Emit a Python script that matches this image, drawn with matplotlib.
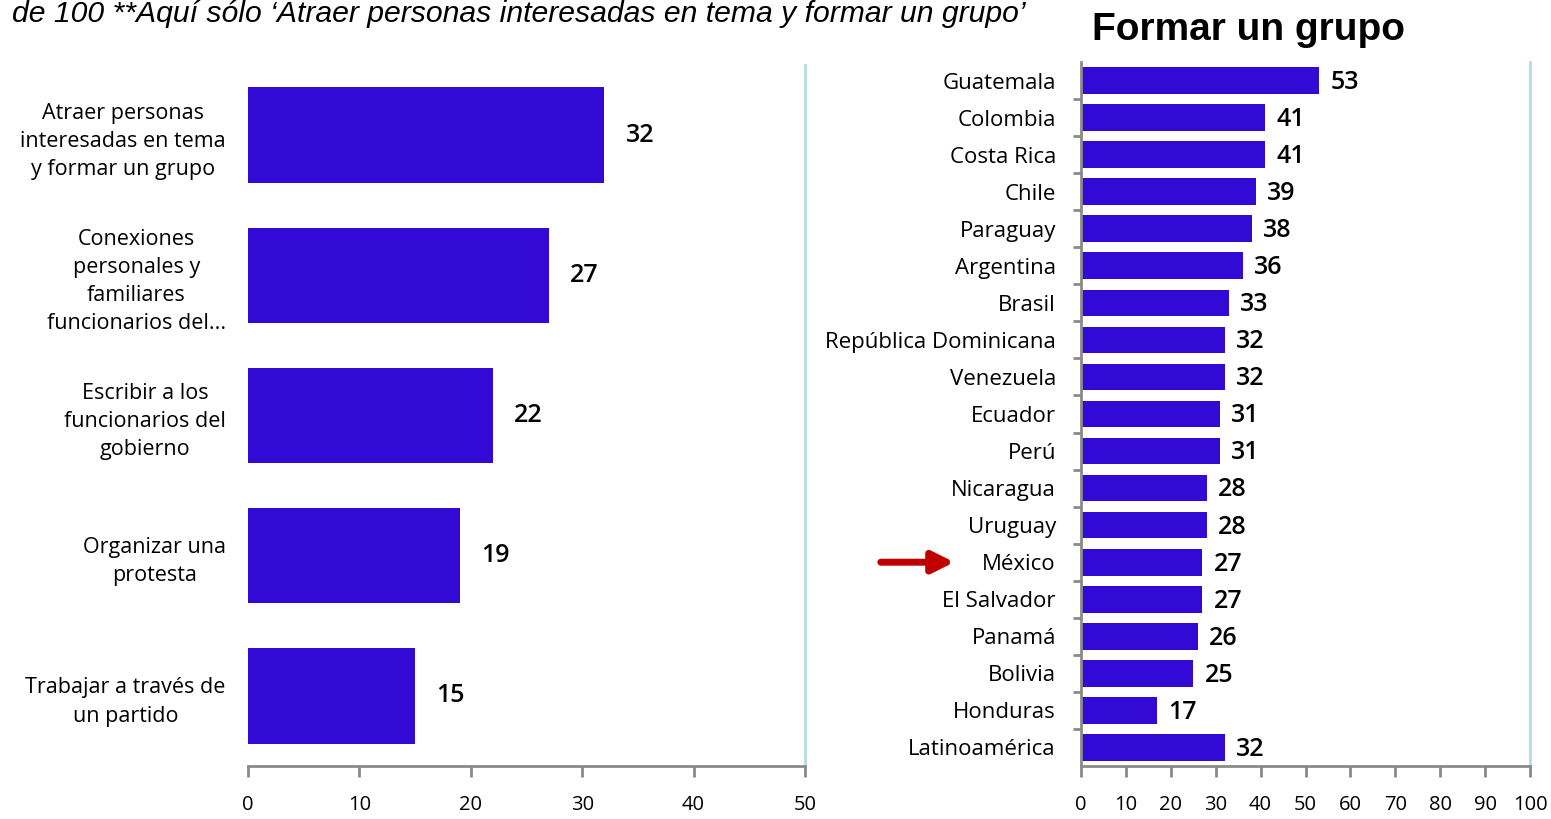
import matplotlib.pyplot as plt

# datos
acciones = ["Atraer personas\ninteresadas en tema\ny formar un grupo",
            "Conexiones\npersonales y\nfamiliares\nfuncionarios del...",
            "Escribir a los\nfuncionarios del\ngobierno",
            "Organizar una\nprotesta",
            "Trabajar a través de\nun partido"]
acciones_val = [32, 27, 22, 19, 15]

paises = ["Guatemala", "Colombia", "Costa Rica", "Chile", "Paraguay", "Argentina",
          "Brasil", "República Dominicana", "Venezuela", "Ecuador", "Perú",
          "Nicaragua", "Uruguay", "México", "El Salvador", "Panamá", "Bolivia",
          "Honduras", "Latinoamérica"]
paises_val = [53, 41, 41, 39, 38, 36, 33, 32, 32, 31, 31, 28, 28, 27, 27, 26, 25, 17, 32]

izq_ticks = [0, 10, 20, 30, 40, 50]
der_ticks = [0, 10, 20, 30, 40, 50, 60, 70, 80, 90, 100]

azul = "#3309D6"
celeste = "#B3DDE6"
gris = "#8A8A8A"

plt.rcParams["font.family"] = ["Open Sans", "DejaVu Sans"]

fig = plt.figure(figsize=(15.51, 8.19), dpi=100)
W, H = 1551, 819

def estilo(ax, ticks, label_size):
    ax.spines["top"].set_visible(False)
    ax.spines["right"].set_color(celeste)
    ax.spines["right"].set_linewidth(2)
    ax.spines["bottom"].set_color(gris)
    ax.spines["bottom"].set_linewidth(2)
    ax.set_xticks(ticks)
    ax.set_xticklabels([str(t) for t in ticks])
    ax.tick_params(axis="x", direction="out", length=8, width=2, color=gris,
                   pad=13, labelsize=label_size)

# grafico izquierdo
ax1 = fig.add_axes([248 / W, 1 - 766 / H, (805 - 248) / W, (766 - 65) / H])
y1 = list(range(len(acciones)))
ax1.barh(y1, acciones_val, height=0.68, color=azul)
ax1.set_xlim(0, 50)
ax1.set_ylim(len(acciones) - 0.5, -0.5)
estilo(ax1, izq_ticks, 14.5)
ax1.spines["left"].set_visible(False)
ax1.set_yticks(y1)
ax1.set_yticklabels(acciones, multialignment="center", fontsize=15.5, linespacing=1.45)
ax1.tick_params(axis="y", length=0, pad=16)
for y, v in zip(y1, acciones_val):
    ax1.text(v + 1.9, y, str(v), va="center", ha="left", fontsize=18, fontweight="semibold")

# grafico derecho
ax2 = fig.add_axes([1081 / W, 1 - 766 / H, (1530 - 1081) / W, (766 - 62) / H])
y2 = list(range(len(paises)))
ax2.barh(y2, paises_val, height=0.72, color=azul)
ax2.set_xlim(0, 100)
ax2.set_ylim(len(paises) - 0.5, -0.5)
estilo(ax2, der_ticks, 14.5)
ax2.spines["left"].set_color(gris)
ax2.spines["left"].set_linewidth(2)
ax2.set_yticks(y2)
ax2.set_yticklabels(paises, fontsize=16)
ax2.set_yticks([i + 0.5 for i in y2[:-1]], minor=True)
ax2.tick_params(axis="y", which="major", length=0, pad=18)
ax2.tick_params(axis="y", which="minor", length=6, width=2, color=gris)
for y, v in zip(y2, paises_val):
    ax2.text(v + 2.5, y + 0.05, str(v), va="center", ha="left", fontsize=18,
             fontweight="semibold")

fig.text(1248 / W, 1 - 30 / H, "Formar un grupo", ha="center", va="center",
         fontsize=28, fontweight="bold", family="Liberation Sans")
fig.text(12 / W, 1 - 22 / H,
         "de 100 **Aquí sólo ‘Atraer personas interesadas en tema y formar un grupo’",
         ha="left", va="baseline", fontsize=21.7, style="italic", family="Liberation Sans")

# flecha hacia México
ax2.annotate("", xy=(957 / W, paises.index("México")),
             xytext=(878 / W, paises.index("México")),
             xycoords=("figure fraction", "data"), textcoords=("figure fraction", "data"),
             arrowprops=dict(arrowstyle="-|>", lw=5, color="#C00000", mutation_scale=32),
             annotation_clip=False)

fig.savefig("out.png", dpi=100)
